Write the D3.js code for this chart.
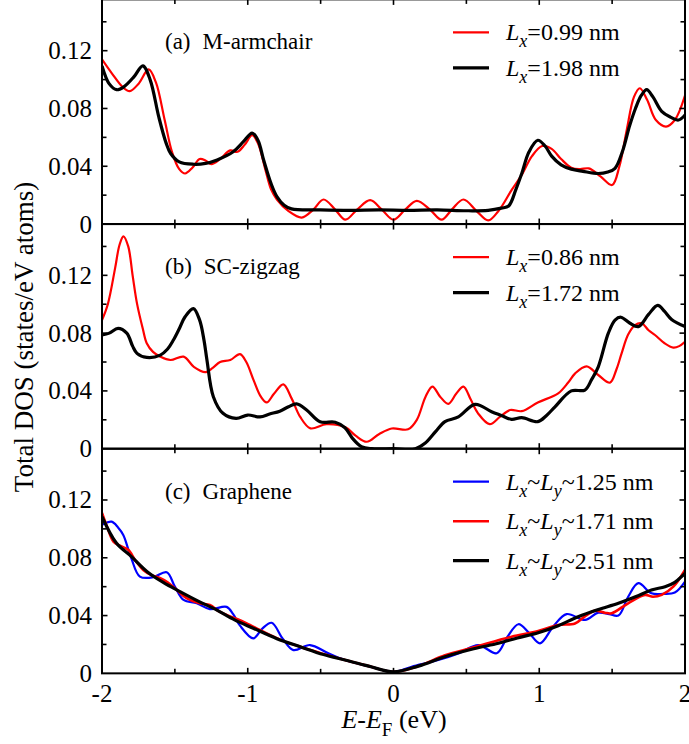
<!DOCTYPE html>
<html>
<head>
<meta charset="utf-8">
<script src="https://cdn.jsdelivr.net/npm/d3@7"></script>
<style>
  svg text, svg tspan { font-family: "Liberation Serif" !important; }
</style>
</head>
<body style="margin:0">
<svg id="chart" width="689" height="744" font-family="Liberation Serif" style="display:block;background:#fff"></svg>
<script>
// Energy window and tick values
const energyDomain = [-2, 2];
const dosDomain = [0, 0.1555];
const xMajorTicks = [-2, -1, 0, 1, 2];
const xMinorTicks = [-1.5, -0.5, 0.5, 1.5];
const yMajorTicks = [0, 0.04, 0.08, 0.12];
const yMinorTicks = [0.02, 0.06, 0.10, 0.14];
const xTickLabels = ["-2", "-1", "0", "1", "2"];
const yTickLabels = ["0", "0.04", "0.08", "0.12"];

// (a) M-armchair: [E - EF (eV), DOS]
const armchairLx099 = [[-2.0,0.114],[-1.93,0.104],[-1.86,0.095],[-1.81,0.092],[-1.75,0.097],[-1.68,0.107],[-1.63,0.098],[-1.57,0.072],[-1.52,0.050],[-1.47,0.038],[-1.43,0.035],[-1.38,0.039],[-1.33,0.045],[-1.29,0.044],[-1.25,0.0415],[-1.19,0.045],[-1.12,0.051],[-1.07,0.050],[-1.02,0.055],[-0.97,0.0615],[-0.93,0.056],[-0.88,0.038],[-0.84,0.024],[-0.80,0.017],[-0.72,0.009],[-0.63,0.0045],[-0.55,0.010],[-0.48,0.017],[-0.40,0.010],[-0.33,0.003],[-0.25,0.010],[-0.16,0.0165],[-0.08,0.010],[0.0,0.003],[0.08,0.010],[0.16,0.016],[0.25,0.010],[0.33,0.003],[0.40,0.010],[0.48,0.017],[0.57,0.009],[0.65,0.0025],[0.72,0.009],[0.81,0.0235],[0.88,0.034],[0.95,0.047],[1.02,0.054],[1.085,0.052],[1.15,0.045],[1.22,0.039],[1.28,0.038],[1.34,0.0385],[1.42,0.033],[1.50,0.027],[1.55,0.040],[1.60,0.065],[1.65,0.088],[1.69,0.094],[1.74,0.086],[1.80,0.072],[1.87,0.0675],[1.93,0.072],[2.0,0.089]];
const armchairLx198 = [[-2.0,0.1095],[-1.95,0.097],[-1.90,0.093],[-1.85,0.095],[-1.78,0.102],[-1.72,0.1095],[-1.67,0.100],[-1.61,0.074],[-1.56,0.056],[-1.53,0.049],[-1.47,0.043],[-1.37,0.0414],[-1.29,0.042],[-1.21,0.0444],[-1.10,0.050],[-1.03,0.057],[-0.97,0.063],[-0.93,0.058],[-0.89,0.044],[-0.84,0.028],[-0.80,0.019],[-0.75,0.013],[-0.70,0.0105],[-0.5,0.0098],[-0.3,0.0095],[-0.1,0.0098],[0.1,0.0095],[0.3,0.0098],[0.5,0.0092],[0.65,0.0095],[0.74,0.011],[0.79,0.0125],[0.84,0.024],[0.88,0.035],[0.93,0.050],[0.99,0.058],[1.04,0.054],[1.085,0.047],[1.15,0.041],[1.22,0.038],[1.30,0.0365],[1.405,0.035],[1.47,0.036],[1.52,0.0386],[1.57,0.050],[1.62,0.068],[1.66,0.080],[1.70,0.089],[1.737,0.093],[1.78,0.088],[1.84,0.078],[1.90,0.074],[1.955,0.072],[2.0,0.0755]];

// (b) SC-zigzag
const zigzagLx086 = [[-2.0,0.089],[-1.96,0.100],[-1.91,0.125],[-1.88,0.141],[-1.853,0.147],[-1.82,0.140],[-1.79,0.120],[-1.76,0.1006],[-1.72,0.083],[-1.693,0.073],[-1.65,0.067],[-1.60,0.0637],[-1.53,0.0614],[-1.44,0.0637],[-1.37,0.0567],[-1.29,0.053],[-1.24,0.056],[-1.19,0.060],[-1.12,0.0614],[-1.053,0.0655],[-1.01,0.060],[-0.96,0.0475],[-0.91,0.036],[-0.87,0.032],[-0.82,0.038],[-0.756,0.0445],[-0.70,0.035],[-0.64,0.022],[-0.57,0.0141],[-0.46,0.017],[-0.33,0.0148],[-0.26,0.009],[-0.184,0.0048],[-0.10,0.010],[-0.012,0.014],[0.10,0.0134],[0.16,0.020],[0.22,0.036],[0.267,0.043],[0.32,0.036],[0.376,0.031],[0.43,0.038],[0.48,0.043],[0.53,0.034],[0.58,0.0245],[0.66,0.017],[0.73,0.022],[0.80,0.0268],[0.88,0.026],[0.99,0.032],[1.13,0.0383],[1.20,0.046],[1.245,0.052],[1.325,0.057],[1.405,0.051],[1.485,0.0457],[1.53,0.055],[1.565,0.066],[1.61,0.079],[1.657,0.0856],[1.703,0.0868],[1.75,0.082],[1.794,0.0787],[1.86,0.073],[1.92,0.070],[1.96,0.071],[2.0,0.074]];
const zigzagLx172 = [[-2.0,0.0787],[-1.95,0.080],[-1.89,0.0833],[-1.83,0.080],[-1.79,0.071],[-1.76,0.066],[-1.693,0.0632],[-1.60,0.0648],[-1.55,0.069],[-1.51,0.0752],[-1.47,0.083],[-1.43,0.0913],[-1.373,0.097],[-1.33,0.089],[-1.30,0.075],[-1.28,0.0614],[-1.236,0.036],[-1.17,0.0245],[-1.08,0.021],[-1.0,0.0233],[-0.916,0.022],[-0.85,0.024],[-0.78,0.026],[-0.72,0.029],[-0.665,0.031],[-0.596,0.0268],[-0.504,0.0187],[-0.40,0.0183],[-0.333,0.0145],[-0.28,0.007],[-0.22,0.0014],[-0.15,0.0],[0.0,0.0],[0.15,0.0],[0.216,0.0037],[0.29,0.012],[0.353,0.0187],[0.445,0.022],[0.56,0.0307],[0.673,0.0256],[0.74,0.023],[0.81,0.0203],[0.88,0.0215],[0.99,0.0187],[1.05,0.023],[1.108,0.029],[1.22,0.040],[1.313,0.0406],[1.36,0.048],[1.405,0.0567],[1.474,0.080],[1.52,0.089],[1.56,0.091],[1.62,0.087],[1.68,0.0845],[1.75,0.093],[1.813,0.0992],[1.86,0.095],[1.908,0.0895],[2.0,0.0845]];

// (c) Graphene
const grapheneL125 = [[-2.0,0.1028],[-1.934,0.105],[-1.89,0.101],[-1.854,0.0958],[-1.80,0.080],[-1.74,0.067],[-1.65,0.0665],[-1.556,0.070],[-1.50,0.060],[-1.44,0.0508],[-1.35,0.0485],[-1.26,0.0445],[-1.145,0.046],[-1.10,0.041],[-1.053,0.033],[-0.962,0.0242],[-0.90,0.031],[-0.836,0.035],[-0.76,0.024],[-0.687,0.0161],[-0.573,0.0196],[-0.45,0.014],[-0.333,0.0092],[-0.17,0.005],[0.0,0.001],[0.124,0.0046],[0.307,0.0092],[0.45,0.014],[0.582,0.0196],[0.708,0.0139],[0.78,0.025],[0.857,0.034],[0.93,0.028],[1.005,0.0208],[1.10,0.033],[1.188,0.041],[1.314,0.037],[1.405,0.042],[1.48,0.041],[1.543,0.040],[1.61,0.053],[1.68,0.0624],[1.77,0.0554],[1.85,0.055],[1.93,0.0559],[2.0,0.0635]];
const grapheneL171 = [[-2.0,0.111],[-1.96,0.100],[-1.92,0.091],[-1.87,0.088],[-1.82,0.0855],[-1.77,0.078],[-1.717,0.0716],[-1.66,0.068],[-1.60,0.0658],[-1.55,0.063],[-1.49,0.058],[-1.42,0.052],[-1.33,0.0485],[-1.26,0.0473],[-1.20,0.043],[-1.145,0.0404],[-1.07,0.0375],[-1.007,0.0346],[-0.893,0.0288],[-0.77,0.023],[-0.64,0.0184],[-0.50,0.014],[-0.333,0.0092],[-0.17,0.005],[0.0,0.001],[0.17,0.005],[0.353,0.0125],[0.55,0.018],[0.81,0.0254],[0.98,0.029],[1.13,0.0335],[1.245,0.0345],[1.32,0.040],[1.383,0.0434],[1.45,0.042],[1.497,0.0416],[1.61,0.0485],[1.725,0.0543],[1.78,0.053],[1.84,0.0543],[1.92,0.060],[2.0,0.0716]];
const grapheneL251 = [[-2.0,0.1085],[-1.9,0.090],[-1.80,0.081],[-1.69,0.0704],[-1.58,0.063],[-1.465,0.0566],[-1.34,0.050],[-1.214,0.0439],[-1.09,0.037],[-0.962,0.0312],[-0.80,0.024],[-0.64,0.0184],[-0.48,0.013],[-0.333,0.0092],[-0.17,0.005],[0.0,0.001],[0.17,0.005],[0.353,0.0115],[0.55,0.017],[0.72,0.0208],[0.85,0.0245],[0.993,0.0281],[1.13,0.033],[1.267,0.0392],[1.40,0.044],[1.543,0.0485],[1.66,0.053],[1.77,0.0577],[1.863,0.060],[1.93,0.063],[2.0,0.0693]];

const panels = [
  { tag: "(a)", name: "M-armchair",
    series: [
      { data: armchairLx099, color: "#ff0000", width: 2.2, legend: ["L", "x", null, "=0.99 nm"] },
      { data: armchairLx198, color: "#000000", width: 3.2, legend: ["L", "x", null, "=1.98 nm"] }
    ] },
  { tag: "(b)", name: "SC-zigzag",
    series: [
      { data: zigzagLx086, color: "#ff0000", width: 2.2, legend: ["L", "x", null, "=0.86 nm"] },
      { data: zigzagLx172, color: "#000000", width: 3.2, legend: ["L", "x", null, "=1.72 nm"] }
    ] },
  { tag: "(c)", name: "Graphene",
    series: [
      { data: grapheneL125, color: "#0000ff", width: 2.2, legend: ["L", "x", "L", "y", "~1.25 nm"] },
      { data: grapheneL171, color: "#ff0000", width: 2.6, legend: ["L", "x", "L", "y", "~1.71 nm"] },
      { data: grapheneL251, color: "#000000", width: 3.2, legend: ["L", "x", "L", "y", "~2.51 nm"] }
    ] }
];

const svg = d3.select("#chart");
const left = 102, right = 685;
const top0 = -0.6, panelH = 224.65;
const x = d3.scaleLinear().domain(energyDomain).range([left, right]);

const line = d3.line().curve(d3.curveCatmullRom.alpha(0.5));

// every text in the figure is set in a Times-like serif
function label(parent, size) {
  return parent.append("text")
    .attr("font-family", "Liberation Serif")
    .style("font-family", '"Liberation Serif"', "important")
    .attr("font-size", size)
    .attr("fill", "#000");
}

panels.forEach((p, i) => {
  const pTop = top0 + i * panelH;
  const pBot = pTop + panelH;
  const y = d3.scaleLinear().domain(dosDomain).range([pBot, pTop]);
  const g = svg.append("g");

  const clipId = "clip" + i;
  svg.append("clipPath").attr("id", clipId)
    .append("rect").attr("x", left).attr("y", pTop).attr("width", right - left).attr("height", panelH);

  // curves
  const cg = g.append("g").attr("clip-path", `url(#${clipId})`);
  p.series.forEach(s => {
    cg.append("path")
      .attr("d", line.x(d => x(d[0])).y(d => y(d[1]))(s.data))
      .attr("fill", "none")
      .attr("stroke", s.color)
      .attr("stroke-width", s.width)
      .attr("stroke-linejoin", "round");
  });

  // inward ticks on all four sides
  const tickLen = 5.5, minorLen = 4.5;
  const axes = g.append("g").attr("stroke", "#000").attr("stroke-width", 1.6);
  xMajorTicks.concat(xMinorTicks).forEach(t => {
    const len = xMajorTicks.includes(t) ? tickLen : minorLen;
    axes.append("line").attr("x1", x(t)).attr("x2", x(t)).attr("y1", pBot).attr("y2", pBot - len);
    axes.append("line").attr("x1", x(t)).attr("x2", x(t)).attr("y1", pTop).attr("y2", pTop + len);
  });
  yMajorTicks.concat(yMinorTicks).forEach(t => {
    if (t === 0) return;
    const len = yMajorTicks.includes(t) ? tickLen : minorLen;
    axes.append("line").attr("x1", left).attr("x2", left + len).attr("y1", y(t)).attr("y2", y(t));
    axes.append("line").attr("x1", right).attr("x2", right - len).attr("y1", y(t)).attr("y2", y(t));
  });

  // frame
  g.append("rect").attr("x", left).attr("y", pTop).attr("width", right - left).attr("height", panelH)
    .attr("fill", "none").attr("stroke", "#000").attr("stroke-width", 2);

  // y tick labels
  yMajorTicks.forEach((t, k) => {
    label(g, 25).attr("x", 92).attr("y", y(t)).attr("dy", "0.34em")
      .attr("text-anchor", "end").text(yTickLabels[k]);
  });

  // panel label
  const pl = label(g, 23).attr("x", 165).attr("y", pTop + 50);
  pl.append("tspan").text(p.tag);
  pl.append("tspan").attr("dx", 12).text(p.name);

  // legend
  const spacing = p.series.length === 3 ? 39.5 : 35.5;
  const firstY = pTop + 33;
  p.series.forEach((s, k) => {
    const ly = firstY + k * spacing;
    g.append("line").attr("x1", 453).attr("x2", 489).attr("y1", ly).attr("y2", ly)
      .attr("stroke", s.color).attr("stroke-width", s.width);
    const t = label(g, 24).attr("x", 506).attr("y", ly + 8);
    const parts = s.legend;
    t.append("tspan").attr("font-style", "italic").text(parts[0]);
    t.append("tspan").attr("font-style", "italic").attr("font-size", 18).attr("dy", 7).text(parts[1]);
    if (parts.length === 5) {
      t.append("tspan").attr("dy", -7).text("~");
      t.append("tspan").attr("font-style", "italic").text(parts[2]);
      t.append("tspan").attr("font-style", "italic").attr("font-size", 18).attr("dy", 7).text(parts[3]);
      t.append("tspan").attr("dy", -7).text(parts[4]);
    } else {
      t.append("tspan").attr("dy", -7).text(parts[3]);
    }
  });

  // x tick labels on the bottom panel
  if (i === panels.length - 1) {
    xMajorTicks.forEach((t, k) => {
      label(g, 25).attr("x", x(t)).attr("y", 702).attr("text-anchor", "middle").text(xTickLabels[k]);
    });
  }
});

// axis titles
const xt = label(svg, 26).attr("x", 394).attr("y", 728).attr("text-anchor", "middle");
xt.append("tspan").attr("font-style", "italic").text("E");
xt.append("tspan").text("-");
xt.append("tspan").attr("font-style", "italic").text("E");
xt.append("tspan").attr("font-size", 19).attr("dy", 8).text("F");
xt.append("tspan").attr("dy", -8).text(" (eV)");

label(svg, 27)
  .attr("transform", "translate(33,337) rotate(-90)")
  .attr("text-anchor", "middle")
  .text("Total DOS (states/eV atoms)");
</script>
</body>
</html>
